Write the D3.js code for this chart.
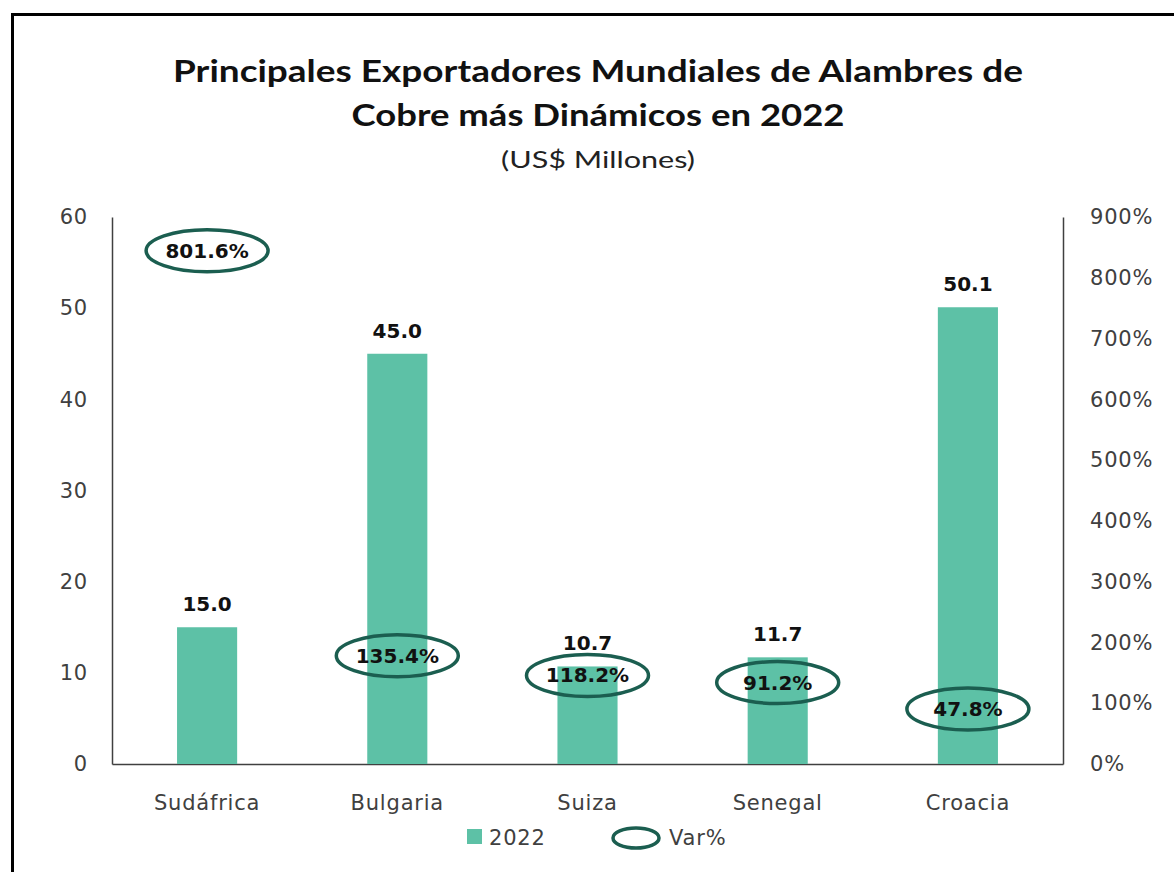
<!DOCTYPE html>
<html lang="es">
<head>
<meta charset="UTF-8">
<title>Principales Exportadores Mundiales de Alambres de Cobre</title>
<script src="https://d3js.org/d3.v7.min.js"></script>
<style>
  body { margin: 0; background: #fff; }
  svg { display: block; }
  .tick text { font-family: "DejaVu Sans", Verdana, sans-serif; font-size: 21px; fill: #404040; letter-spacing: 0.8px; }
  .axis path { stroke: #404040; stroke-width: 1.5px; }
</style>
</head>
<body>
<svg id="chart"></svg>
<script>
  // datos
  const countries = ["Sudáfrica", "Bulgaria", "Suiza", "Senegal", "Croacia"];
  const values2022 = [15.0, 45.0, 10.7, 11.7, 50.1];
  const varPct = [801.6, 135.4, 118.2, 91.2, 47.8];
  const leftTicks = [0, 10, 20, 30, 40, 50, 60];
  const rightTicks = [0, 100, 200, 300, 400, 500, 600, 700, 800, 900];

  const width = 1174, height = 872;
  const barColor = "#5dc1a6";
  const ringColor = "#1b5e50";

  const svg = d3.select("#chart").attr("width", width).attr("height", height);

  // marco exterior (recortado a la derecha y abajo)
  svg.append("rect")
    .attr("x", 12.5).attr("y", 14.5)
    .attr("width", 1300).attr("height", 1000)
    .attr("fill", "none").attr("stroke", "#000").attr("stroke-width", 3);

  const x = d3.scaleBand().domain(countries).range([112, 1063])
    .paddingInner(0.684).paddingOuter(0.342);
  const yL = d3.scaleLinear().domain([0, 60]).range([764, 217]);
  const yR = d3.scaleLinear().domain([0, 900]).range([764, 217]);

  // titulos
  const title = svg.append("g").attr("font-family", "Lato, 'Open Sans', sans-serif").attr("text-anchor", "middle");
  title.append("text").attr("x", 598).attr("y", 82)
    .attr("font-size", 31).attr("font-weight", 700).attr("fill", "#111")
    .attr("textLength", 850).attr("lengthAdjust", "spacingAndGlyphs")
    .text("Principales Exportadores Mundiales de Alambres de");
  title.append("text").attr("x", 598).attr("y", 126)
    .attr("font-size", 31).attr("font-weight", 700).attr("fill", "#111")
    .attr("textLength", 493).attr("lengthAdjust", "spacingAndGlyphs")
    .text("Cobre más Dinámicos en 2022");
  title.append("text").attr("x", 598).attr("y", 168)
    .attr("font-size", 23).attr("fill", "#222")
    .attr("textLength", 194).attr("lengthAdjust", "spacingAndGlyphs")
    .text("(US$ Millones)");

  // ejes
  svg.append("g").attr("class", "axis")
    .attr("transform", "translate(112,0)")
    .call(d3.axisLeft(yL).tickValues(leftTicks).tickSize(0).tickSizeOuter(0).tickPadding(24));

  svg.append("g").attr("class", "axis")
    .attr("transform", "translate(1063,0)")
    .call(d3.axisRight(yR).tickValues(rightTicks).tickSize(0).tickSizeOuter(0).tickPadding(27)
      .tickFormat(d => d + "%"));

  svg.append("g").attr("class", "axis")
    .attr("transform", "translate(0,764)")
    .call(d3.axisBottom(x).tickSize(0).tickSizeOuter(0).tickPadding(31));

  // barras
  svg.append("g").selectAll("rect")
    .data(countries)
    .join("rect")
    .attr("x", d => x(d))
    .attr("width", x.bandwidth())
    .attr("y", (d, i) => yL(values2022[i]))
    .attr("height", (d, i) => yL(0) - yL(values2022[i]))
    .attr("fill", barColor);

  const labelY = i => yL(values2022[i]) - 16;

  svg.append("g").selectAll("text")
    .data(countries)
    .join("text")
    .attr("x", d => x(d) + x.bandwidth() / 2)
    .attr("y", (d, i) => labelY(i))
    .attr("text-anchor", "middle")
    .attr("font-family", "'DejaVu Sans', Verdana, sans-serif")
    .attr("font-weight", 700).attr("font-size", 20).attr("fill", "#111")
    .text((d, i) => values2022[i].toFixed(1));

  // variacion % (elipses): sobre el punto, bajada si choca con la etiqueta de la barra
  const ry = 21;
  const ringY = i => {
    const y0 = yR(varPct[i]) - 26;
    if (y0 + ry < labelY(i) - 20) return y0;
    return Math.max(y0, labelY(i) + 4 + ry);
  };

  const rings = svg.append("g").selectAll("g")
    .data(countries)
    .join("g")
    .attr("transform", (d, i) => `translate(${x(d) + x.bandwidth() / 2},${ringY(i)})`);

  rings.append("ellipse")
    .attr("rx", 61).attr("ry", ry)
    .attr("fill", "none").attr("stroke", ringColor).attr("stroke-width", 3.5);

  rings.append("text")
    .attr("y", 7)
    .attr("text-anchor", "middle")
    .attr("font-family", "'DejaVu Sans', Verdana, sans-serif")
    .attr("font-weight", 700).attr("font-size", 20).attr("fill", "#111")
    .text((d, i) => varPct[i].toFixed(1) + "%");

  // leyenda
  const legend = svg.append("g").attr("font-family", "'DejaVu Sans', Verdana, sans-serif")
    .attr("font-size", 21).attr("fill", "#404040");
  legend.append("rect").attr("x", 467).attr("y", 829).attr("width", 15).attr("height", 15).attr("fill", barColor);
  legend.append("text").attr("x", 489).attr("y", 845).attr("letter-spacing", 0.8).text("2022");
  legend.append("ellipse").attr("cx", 636).attr("cy", 838).attr("rx", 23).attr("ry", 10)
    .attr("fill", "none").attr("stroke", ringColor).attr("stroke-width", 3.5);
  legend.append("text").attr("x", 669).attr("y", 845).attr("letter-spacing", 0.8).text("Var%");
</script>
</body>
</html>
